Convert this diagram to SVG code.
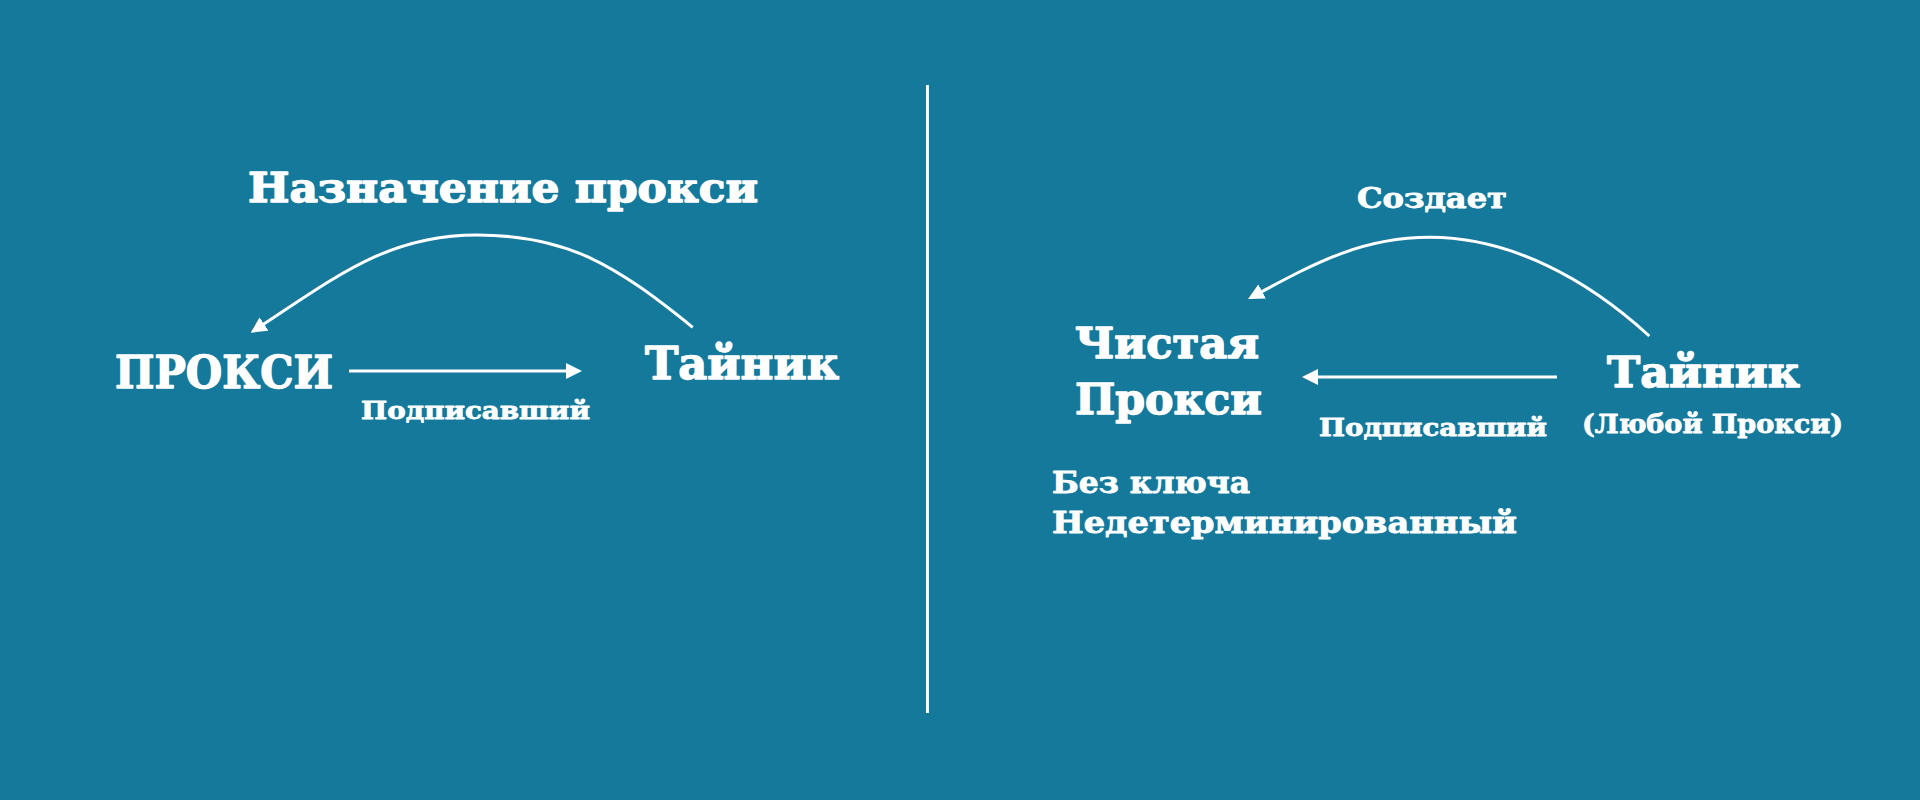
<svg xmlns="http://www.w3.org/2000/svg" width="1920" height="800" viewBox="0 0 1920 800">
  <style>
    .t { font-family: "DejaVu Serif", "Liberation Serif", serif; font-weight: bold; fill: #ffffff; stroke: #ffffff; stroke-linejoin: round; }
    .big { stroke-width: 1.4; }
    .small { stroke-width: 0.8; }
    .conn { fill: none; stroke: #ffffff; stroke-width: 3; }
  </style>
  <defs>
    <marker id="arrow" viewBox="0 0 16 16" refX="13" refY="8" markerWidth="16" markerHeight="16" markerUnits="userSpaceOnUse" orient="auto">
      <path d="M0,0 L16,8 L0,16 z" fill="#ffffff"/>
    </marker>
  </defs>
  <rect x="0" y="0" width="1920" height="800" fill="#15799B"/>

  <g id="divider">
    <line x1="927.5" y1="85" x2="927.5" y2="713" stroke="#ffffff" stroke-width="3"/>
  </g>

  <g id="connectors">
    <path class="conn" d="M692.7,327.3 C614.9,264.4 567,235 477,235 C387,235 336.9,276.5 253.2,331.1" marker-end="url(#arrow)"/>
    <line class="conn" x1="349" y1="371" x2="579" y2="371" marker-end="url(#arrow)"/>
    <path class="conn" d="M1649.3,336 C1586.7,278.5 1510,237.3 1430,237.3 C1360,237.3 1312.3,264.5 1250.7,297.6" marker-end="url(#arrow)"/>
    <line class="conn" x1="1557" y1="377" x2="1305" y2="377" marker-end="url(#arrow)"/>
  </g>

  <g id="label-assign">
    <text class="t big" x="248" y="202" font-size="41" textLength="510" lengthAdjust="spacingAndGlyphs">Назначение прокси</text>
  </g>
  <g id="node-proxy">
    <text class="t big" x="115" y="388" font-size="45" textLength="218" lengthAdjust="spacingAndGlyphs">ПРОКСИ</text>
  </g>
  <g id="node-vault-left">
    <text class="t big" x="645" y="379" font-size="44" textLength="194" lengthAdjust="spacingAndGlyphs">Тайник</text>
  </g>
  <g id="label-signer-left">
    <text class="t small" x="361" y="419" font-size="24" textLength="229" lengthAdjust="spacingAndGlyphs">Подписавший</text>
  </g>

  <g id="label-creates">
    <text class="t small" x="1357" y="208" font-size="27" textLength="150" lengthAdjust="spacingAndGlyphs">Создает</text>
  </g>
  <g id="node-pure-proxy">
    <text class="t big" x="1075" y="358" font-size="42" textLength="184" lengthAdjust="spacingAndGlyphs">Чистая</text>
    <text class="t big" x="1075" y="414" font-size="42" textLength="187" lengthAdjust="spacingAndGlyphs">Прокси</text>
  </g>
  <g id="node-vault-right">
    <text class="t big" x="1607" y="387" font-size="43.5" textLength="193" lengthAdjust="spacingAndGlyphs">Тайник</text>
    <text class="t small" x="1582" y="433" font-size="26" textLength="261" lengthAdjust="spacingAndGlyphs">(Любой Прокси)</text>
  </g>
  <g id="label-signer-right">
    <text class="t small" x="1319" y="436" font-size="24" textLength="228" lengthAdjust="spacingAndGlyphs">Подписавший</text>
  </g>
  <g id="notes">
    <text class="t small" x="1052" y="493" font-size="29" textLength="198" lengthAdjust="spacingAndGlyphs">Без ключа</text>
    <text class="t small" x="1052" y="533" font-size="29" textLength="465" lengthAdjust="spacingAndGlyphs">Недетерминированный</text>
  </g>
</svg>
